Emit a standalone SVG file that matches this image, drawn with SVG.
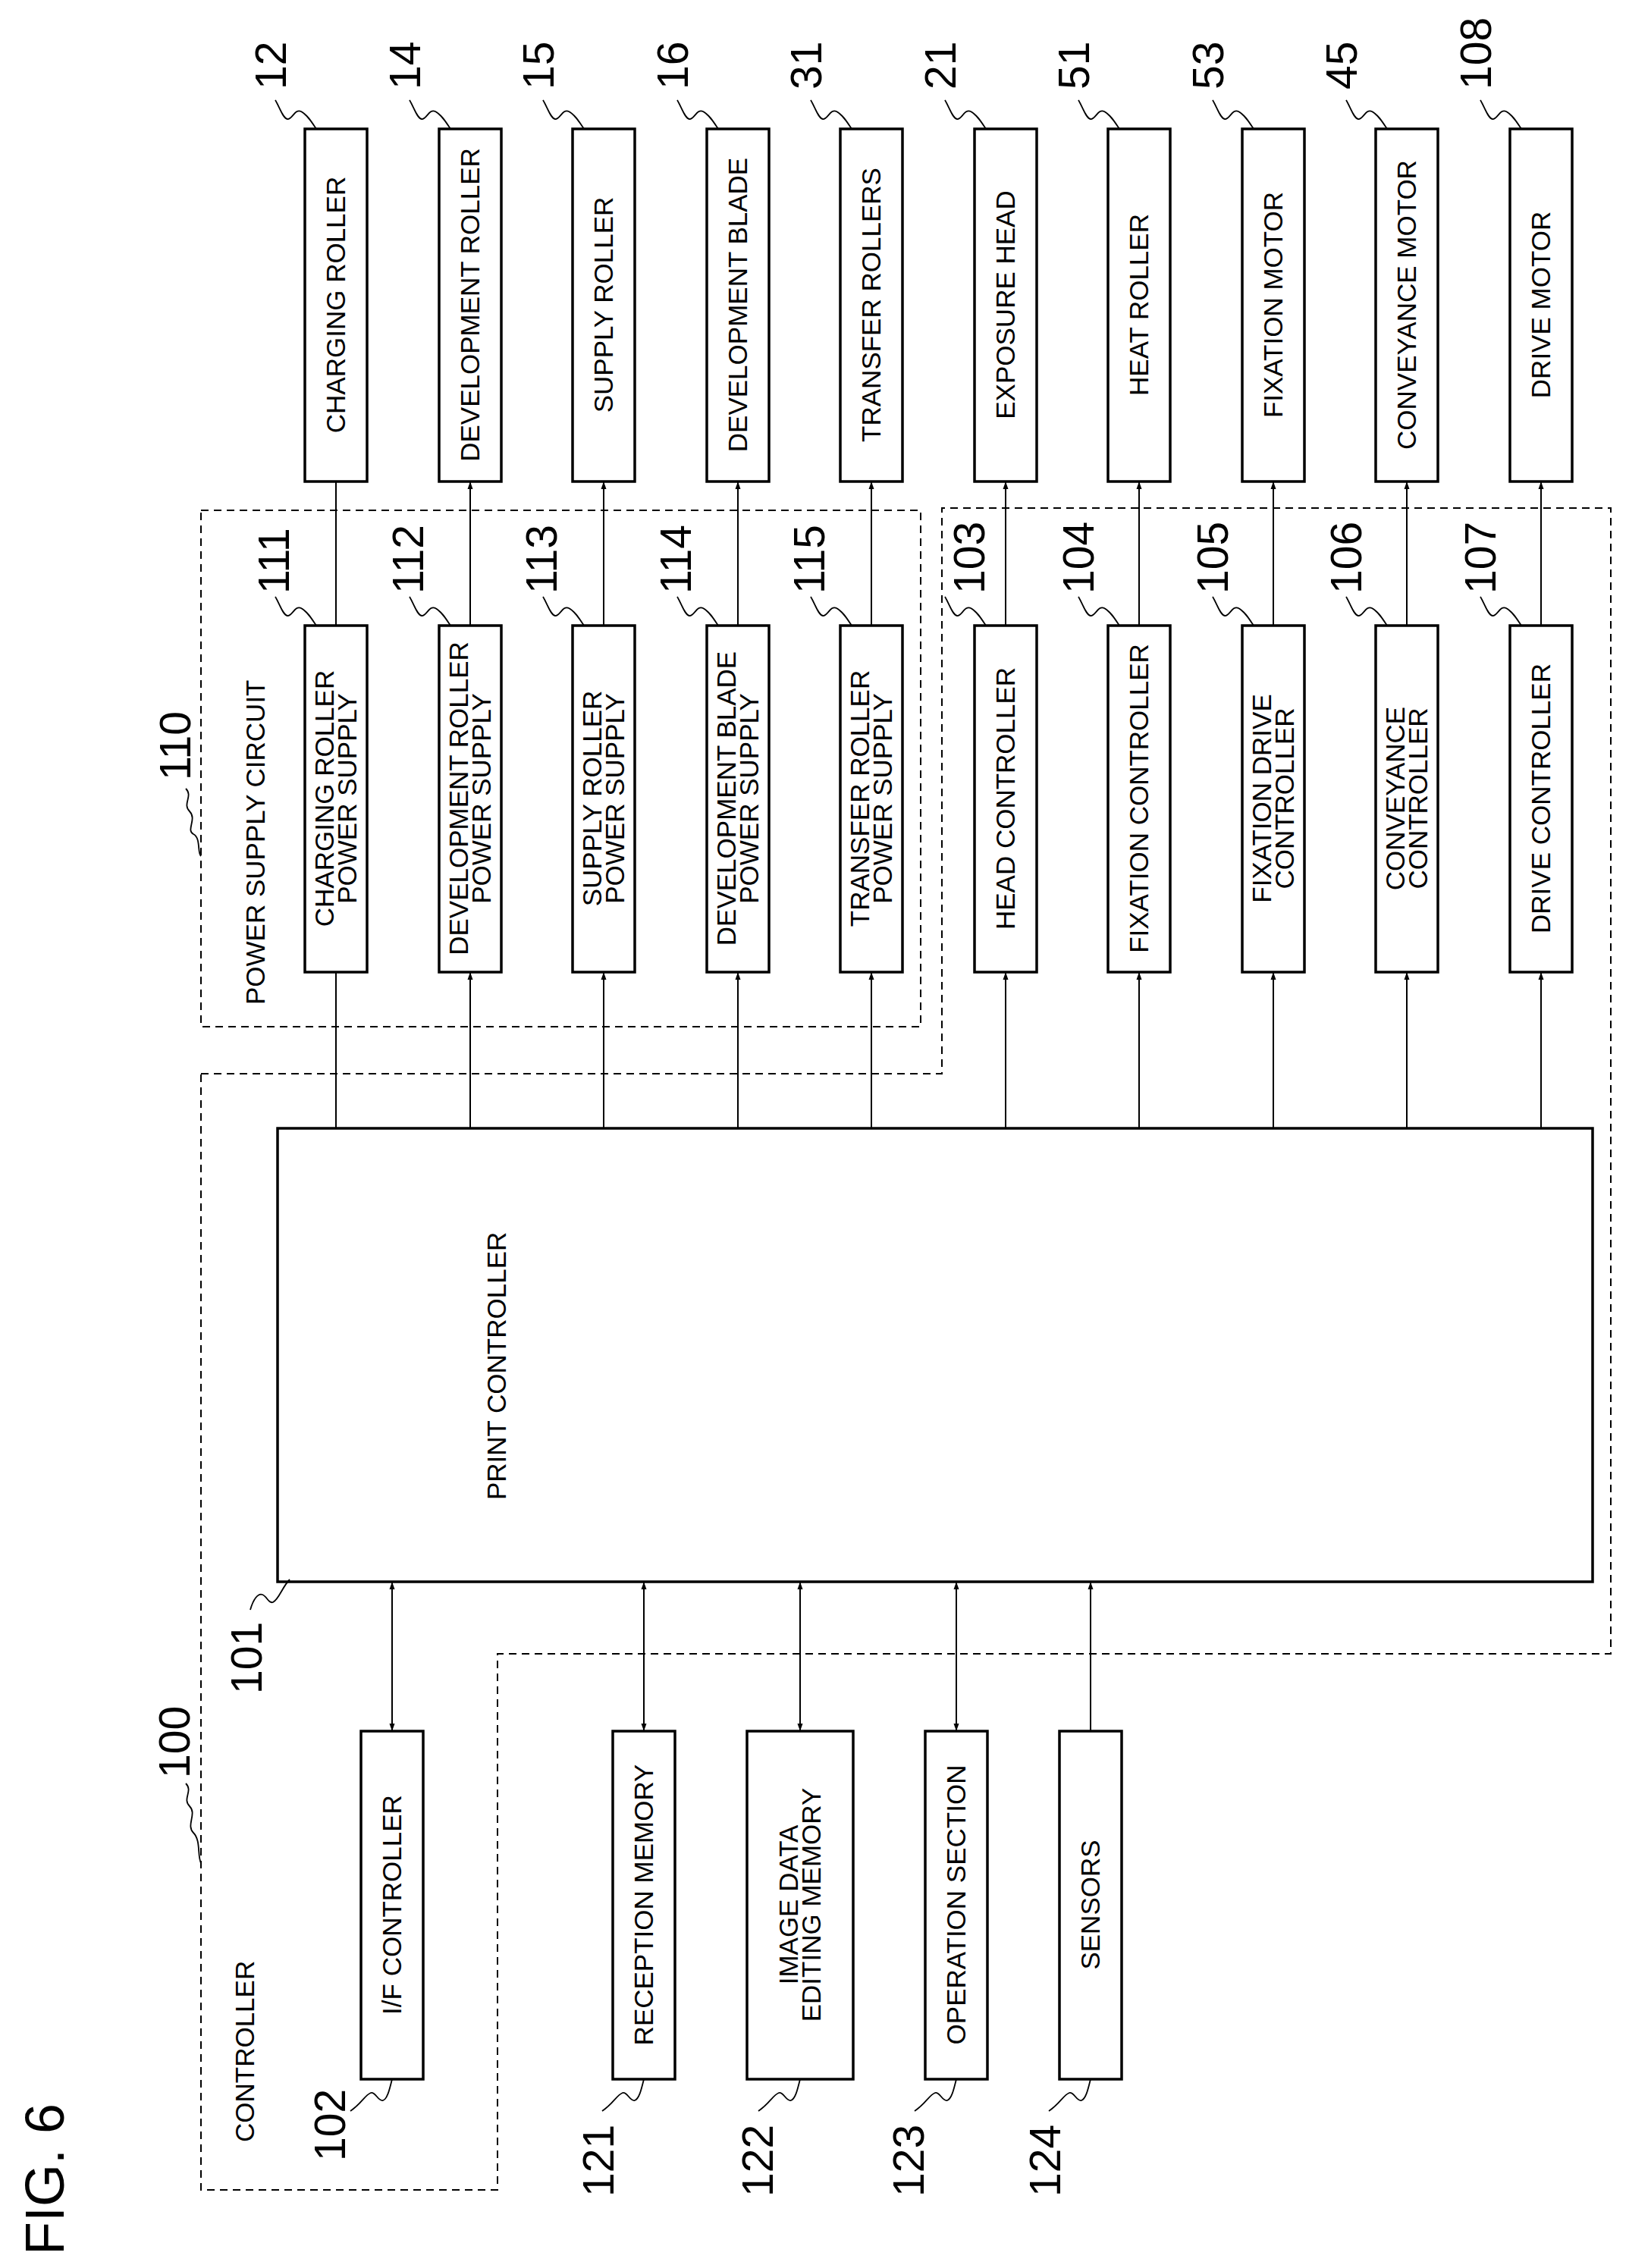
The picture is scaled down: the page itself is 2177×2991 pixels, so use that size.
<svg xmlns="http://www.w3.org/2000/svg" xmlns:xlink="http://www.w3.org/1999/xlink" width="2177" height="2991" viewBox="0 0 2177 2991">
<style>
text{font-family:"Liberation Sans",Arial,sans-serif;fill:#000}
.t{font-size:35px;text-anchor:middle}
.n{font-size:57px}
.box{fill:#fff;stroke:#000;stroke-width:3.5}
.ln{stroke:#000;stroke-width:2;fill:none}
.dash{fill:none;stroke:#000;stroke-width:2;stroke-dasharray:10 7}
.sq{fill:none;stroke:#000;stroke-width:1.8}
</style>
<defs>
<marker id="a" viewBox="0 0 10 10" refX="10" refY="5" markerWidth="18" markerHeight="10" markerUnits="userSpaceOnUse" orient="auto-start-reverse"><path d="M0,1.5 L10,5 L0,8.5 Z" fill="#000"/></marker>
<path id="sq" class="sq" d="M -54,-38 c 6,10 10,24 16,25 c 6,1 10,-14 18,-10 c 8,4 14,14 20,23"/>
<path id="sqb" class="sq" d="M 0,0 c -3,12 -6,26 -12,28 c -6,2 -10,-12 -16,-10 c -8,3 -12,14 -27,24"/>
</defs>
<rect width="2177" height="2991" fill="#fff"/>
<g id="frames">
<rect class="dash" x="265" y="673" width="949" height="681"/>
<path class="dash" d="M265,1416 H1242 V670 H2124 V2181 H656 V2888 H265 Z"/>
<text class="n" transform="translate(251,1029) rotate(-90)">110</text>
<path class="sq" d="M245,1040 c 10,10 -5,20 5,30 s -5,25 5,30 s 5,25 10,29"/>
<text style="font-size:35px" transform="translate(349,1325) rotate(-90)">POWER SUPPLY CIRCUIT</text>
<text class="n" transform="translate(250,2345) rotate(-90)">100</text>
<path class="sq" d="M245,2352 c 10,10 -5,20 5,30 s -5,25 5,35 s 5,30 10,40"/>
<text style="font-size:35px" transform="translate(335,2825) rotate(-90)">CONTROLLER</text>
<text style="font-size:72px" transform="translate(84,2974) rotate(-90)">FIG. 6</text>
</g>
<g id="connectors">
<line class="ln" x1="443" y1="1488" x2="443" y2="1282"/>
<line class="ln" x1="620" y1="1488" x2="620" y2="1282" marker-end="url(#a)"/>
<line class="ln" x1="796" y1="1488" x2="796" y2="1282" marker-end="url(#a)"/>
<line class="ln" x1="973" y1="1488" x2="973" y2="1282" marker-end="url(#a)"/>
<line class="ln" x1="1149" y1="1488" x2="1149" y2="1282" marker-end="url(#a)"/>
<line class="ln" x1="1326" y1="1488" x2="1326" y2="1282" marker-end="url(#a)"/>
<line class="ln" x1="1502" y1="1488" x2="1502" y2="1282" marker-end="url(#a)"/>
<line class="ln" x1="1679" y1="1488" x2="1679" y2="1282" marker-end="url(#a)"/>
<line class="ln" x1="1855" y1="1488" x2="1855" y2="1282" marker-end="url(#a)"/>
<line class="ln" x1="2032" y1="1488" x2="2032" y2="1282" marker-end="url(#a)"/>
<line class="ln" x1="443" y1="825" x2="443" y2="635"/>
<line class="ln" x1="620" y1="825" x2="620" y2="635" marker-end="url(#a)"/>
<line class="ln" x1="796" y1="825" x2="796" y2="635" marker-end="url(#a)"/>
<line class="ln" x1="973" y1="825" x2="973" y2="635" marker-end="url(#a)"/>
<line class="ln" x1="1149" y1="825" x2="1149" y2="635" marker-end="url(#a)"/>
<line class="ln" x1="1326" y1="825" x2="1326" y2="635" marker-end="url(#a)"/>
<line class="ln" x1="1502" y1="825" x2="1502" y2="635" marker-end="url(#a)"/>
<line class="ln" x1="1679" y1="825" x2="1679" y2="635" marker-end="url(#a)"/>
<line class="ln" x1="1855" y1="825" x2="1855" y2="635" marker-end="url(#a)"/>
<line class="ln" x1="2032" y1="825" x2="2032" y2="635" marker-end="url(#a)"/>
<line class="ln" x1="517" y1="2086" x2="517" y2="2283" marker-start="url(#a)" marker-end="url(#a)"/>
<line class="ln" x1="849" y1="2086" x2="849" y2="2283" marker-start="url(#a)" marker-end="url(#a)"/>
<line class="ln" x1="1055" y1="2086" x2="1055" y2="2283" marker-start="url(#a)" marker-end="url(#a)"/>
<line class="ln" x1="1261" y1="2086" x2="1261" y2="2283" marker-start="url(#a)" marker-end="url(#a)"/>
<line class="ln" x1="1438" y1="2283" x2="1438" y2="2086" marker-end="url(#a)"/>
</g>
<g id="n12"><rect class="box" x="402" y="170" width="82" height="465"/><text class="t" transform="translate(443,402) rotate(-90)" y="12">CHARGING ROLLER</text><use href="#sq" x="417" y="170"/><text class="n" transform="translate(377,118) rotate(-90)">12</text></g>
<g id="n14"><rect class="box" x="579" y="170" width="82" height="465"/><text class="t" transform="translate(620,402) rotate(-90)" y="12">DEVELOPMENT ROLLER</text><use href="#sq" x="594" y="170"/><text class="n" transform="translate(554,118) rotate(-90)">14</text></g>
<g id="n15"><rect class="box" x="755" y="170" width="82" height="465"/><text class="t" transform="translate(796,402) rotate(-90)" y="12">SUPPLY ROLLER</text><use href="#sq" x="770" y="170"/><text class="n" transform="translate(730,118) rotate(-90)">15</text></g>
<g id="n16"><rect class="box" x="932" y="170" width="82" height="465"/><text class="t" transform="translate(973,402) rotate(-90)" y="12">DEVELOPMENT BLADE</text><use href="#sq" x="947" y="170"/><text class="n" transform="translate(907,118) rotate(-90)">16</text></g>
<g id="n31"><rect class="box" x="1108" y="170" width="82" height="465"/><text class="t" transform="translate(1149,402) rotate(-90)" y="12">TRANSFER ROLLERS</text><use href="#sq" x="1123" y="170"/><text class="n" transform="translate(1083,118) rotate(-90)">31</text></g>
<g id="n21"><rect class="box" x="1285" y="170" width="82" height="465"/><text class="t" transform="translate(1326,402) rotate(-90)" y="12">EXPOSURE HEAD</text><use href="#sq" x="1300" y="170"/><text class="n" transform="translate(1260,118) rotate(-90)">21</text></g>
<g id="n51"><rect class="box" x="1461" y="170" width="82" height="465"/><text class="t" transform="translate(1502,402) rotate(-90)" y="12">HEAT ROLLER</text><use href="#sq" x="1476" y="170"/><text class="n" transform="translate(1436,118) rotate(-90)">51</text></g>
<g id="n53"><rect class="box" x="1638" y="170" width="82" height="465"/><text class="t" transform="translate(1679,402) rotate(-90)" y="12">FIXATION MOTOR</text><use href="#sq" x="1653" y="170"/><text class="n" transform="translate(1613,118) rotate(-90)">53</text></g>
<g id="n45"><rect class="box" x="1814" y="170" width="82" height="465"/><text class="t" transform="translate(1855,402) rotate(-90)" y="12">CONVEYANCE MOTOR</text><use href="#sq" x="1829" y="170"/><text class="n" transform="translate(1789,118) rotate(-90)">45</text></g>
<g id="n108"><rect class="box" x="1991" y="170" width="82" height="465"/><text class="t" transform="translate(2032,402) rotate(-90)" y="12">DRIVE MOTOR</text><use href="#sq" x="2006" y="170"/><text class="n" transform="translate(1966,118) rotate(-90)">108</text></g>
<g id="n111"><rect class="box" x="402" y="825" width="82" height="457"/><text class="t" transform="translate(443,1053) rotate(-90)"><tspan x="0" y="-3">CHARGING ROLLER</tspan><tspan x="0" y="27">POWER SUPPLY</tspan></text><use href="#sq" x="417" y="825"/><text class="n" transform="translate(381,783) rotate(-90)">111</text></g>
<g id="n112"><rect class="box" x="579" y="825" width="82" height="457"/><text class="t" transform="translate(620,1053) rotate(-90)"><tspan x="0" y="-3">DEVELOPMENT ROLLER</tspan><tspan x="0" y="27">POWER SUPPLY</tspan></text><use href="#sq" x="594" y="825"/><text class="n" transform="translate(558,783) rotate(-90)">112</text></g>
<g id="n113"><rect class="box" x="755" y="825" width="82" height="457"/><text class="t" transform="translate(796,1053) rotate(-90)"><tspan x="0" y="-3">SUPPLY ROLLER</tspan><tspan x="0" y="27">POWER SUPPLY</tspan></text><use href="#sq" x="770" y="825"/><text class="n" transform="translate(734,783) rotate(-90)">113</text></g>
<g id="n114"><rect class="box" x="932" y="825" width="82" height="457"/><text class="t" transform="translate(973,1053) rotate(-90)"><tspan x="0" y="-3">DEVELOPMENT BLADE</tspan><tspan x="0" y="27">POWER SUPPLY</tspan></text><use href="#sq" x="947" y="825"/><text class="n" transform="translate(911,783) rotate(-90)">114</text></g>
<g id="n115"><rect class="box" x="1108" y="825" width="82" height="457"/><text class="t" transform="translate(1149,1053) rotate(-90)"><tspan x="0" y="-3">TRANSFER ROLLER</tspan><tspan x="0" y="27">POWER SUPPLY</tspan></text><use href="#sq" x="1123" y="825"/><text class="n" transform="translate(1087,783) rotate(-90)">115</text></g>
<g id="n103"><rect class="box" x="1285" y="825" width="82" height="457"/><text class="t" transform="translate(1326,1053) rotate(-90)" y="12">HEAD CONTROLLER</text><use href="#sq" x="1300" y="825"/><text class="n" transform="translate(1298,783) rotate(-90)">103</text></g>
<g id="n104"><rect class="box" x="1461" y="825" width="82" height="457"/><text class="t" transform="translate(1502,1053) rotate(-90)" y="12">FIXATION CONTROLLER</text><use href="#sq" x="1476" y="825"/><text class="n" transform="translate(1442,783) rotate(-90)">104</text></g>
<g id="n105"><rect class="box" x="1638" y="825" width="82" height="457"/><text class="t" transform="translate(1679,1053) rotate(-90)"><tspan x="0" y="-3">FIXATION DRIVE</tspan><tspan x="0" y="27">CONTROLLER</tspan></text><use href="#sq" x="1653" y="825"/><text class="n" transform="translate(1619,783) rotate(-90)">105</text></g>
<g id="n106"><rect class="box" x="1814" y="825" width="82" height="457"/><text class="t" transform="translate(1855,1053) rotate(-90)"><tspan x="0" y="-3">CONVEYANCE</tspan><tspan x="0" y="27">CONTROLLER</tspan></text><use href="#sq" x="1829" y="825"/><text class="n" transform="translate(1795,783) rotate(-90)">106</text></g>
<g id="n107"><rect class="box" x="1991" y="825" width="82" height="457"/><text class="t" transform="translate(2032,1053) rotate(-90)" y="12">DRIVE CONTROLLER</text><use href="#sq" x="2006" y="825"/><text class="n" transform="translate(1972,783) rotate(-90)">107</text></g>
<g id="n101"><rect class="box" x="366" y="1488" width="1734" height="598"/><text class="t" style="text-anchor:start" transform="translate(667,1978) rotate(-90)">PRINT CONTROLLER</text><path class="sq" d="M330,2123 c 4,-14 10,-22 16,-20 c 6,2 8,12 14,10 c 8,-4 12,-20 22,-30"/><text class="n" transform="translate(345,2234) rotate(-90)">101</text></g>
<g id="n102"><rect class="box" x="476" y="2283" width="82" height="459"/><text class="t" transform="translate(517,2512) rotate(-90)" y="12">I/F CONTROLLER</text><use href="#sqb" x="517" y="2742"/><text class="n" transform="translate(455,2850) rotate(-90)">102</text></g>
<g id="n121"><rect class="box" x="808" y="2283" width="82" height="459"/><text class="t" transform="translate(849,2512) rotate(-90)" y="12">RECEPTION MEMORY</text><use href="#sqb" x="849" y="2742"/><text class="n" transform="translate(809,2897) rotate(-90)">121</text></g>
<g id="n122"><rect class="box" x="985" y="2283" width="140" height="459"/><text class="t" transform="translate(1055,2512) rotate(-90)"><tspan x="0" y="-3">IMAGE DATA</tspan><tspan x="0" y="27">EDITING MEMORY</tspan></text><use href="#sqb" x="1055" y="2742"/><text class="n" transform="translate(1019,2897) rotate(-90)">122</text></g>
<g id="n123"><rect class="box" x="1220" y="2283" width="82" height="459"/><text class="t" transform="translate(1261,2512) rotate(-90)" y="12">OPERATION SECTION</text><use href="#sqb" x="1261" y="2742"/><text class="n" transform="translate(1218,2897) rotate(-90)">123</text></g>
<g id="n124"><rect class="box" x="1397" y="2283" width="82" height="459"/><text class="t" transform="translate(1438,2512) rotate(-90)" y="12">SENSORS</text><use href="#sqb" x="1438" y="2742"/><text class="n" transform="translate(1398,2897) rotate(-90)">124</text></g>
</svg>
